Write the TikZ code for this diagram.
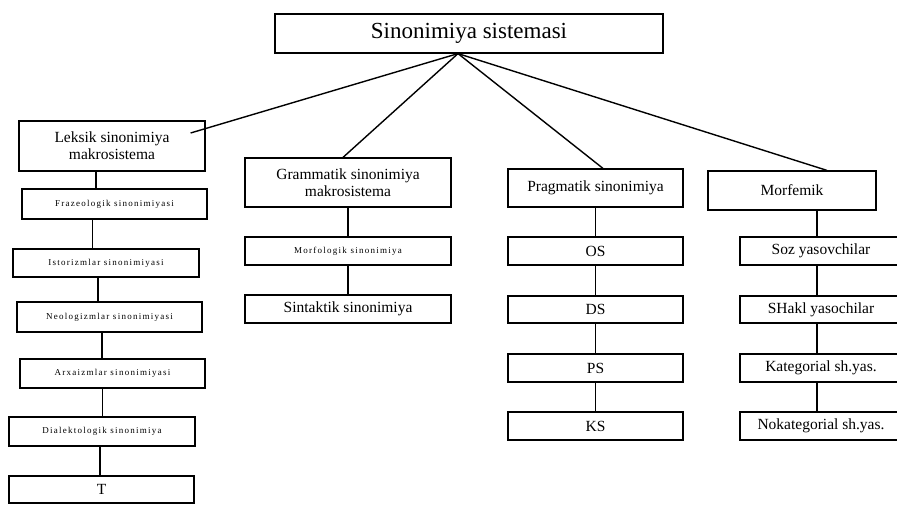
\documentclass[tikz,border=0pt]{standalone}
\usepackage{fontspec}
\setmainfont{Liberation Serif}
\newfontfamily\widefont[LetterSpace=14]{Liberation Serif}
\usepackage{tikz}
\tikzset{box/.style={draw=black,line width=1.2pt,inner sep=0pt,align=center,
   font=\fontsize{15.5}{17}\selectfont},
 smallbox/.style={box,font=\widefont\fontsize{9}{10}\selectfont},
 topbox/.style={box,font=\fontsize{23}{25}\selectfont},
 link/.style={line width=1.4pt},
 }

\begin{document}
\begin{tikzpicture}[x=1pt,y=-1pt]
        \useasboundingbox (0,0) rectangle (897,505);
        \node[topbox,minimum width=388pt,minimum height=39pt] (top) at (469,33.5) {Sinonimiya sistemasi};
        \coordinate (hub) at ([xshift=-11pt]top.south);

        % leksik column
        \node[box,minimum width=186pt,minimum height=50pt] (leksik) at (112,146) {Leksik sinonimiya\\makrosistema};
        \node[smallbox,minimum width=185pt,minimum height=30pt] (fraz) at (114.5,204) {Frazeologik sinonimiyasi};
        \node[smallbox,minimum width=186pt,minimum height=28pt] (istor) at (106,263) {Istorizmlar sinonimiyasi};
        \node[smallbox,minimum width=185pt,minimum height=30pt] (neolog) at (109.5,317) {Neologizmlar sinonimiyasi};
        \node[smallbox,minimum width=185pt,minimum height=29pt] (arxaiz) at (112.5,373.5) {Arxaizmlar sinonimiyasi};
        \node[smallbox,minimum width=186pt,minimum height=29pt] (dialekt) at (102,431.5) {Dialektologik sinonimiya};
        \node[box,minimum width=185pt,minimum height=27pt] (tbox) at (101.5,489.5) {T};

        \draw[link] ([xshift=-16pt]leksik.south) -- ([xshift=-16pt]leksik.south |- fraz.north);
        \draw[link] ([xshift=-22pt]fraz.south) -- ([xshift=-22pt]fraz.south |- istor.north);
        \draw[link] ([xshift=-8pt]istor.south) -- ([xshift=-8pt]istor.south |- neolog.north);
        \draw[link] ([xshift=-7.5pt]neolog.south) -- ([xshift=-7.5pt]neolog.south |- arxaiz.north);
        \draw[link] ([xshift=-10pt]arxaiz.south) -- ([xshift=-10pt]arxaiz.south |- dialekt.north);
        \draw[link] ([xshift=-2pt]dialekt.south) -- ([xshift=-2pt]dialekt.south |- tbox.north);

        % grammatik column
        \node[box,minimum width=206pt,minimum height=49pt] (gram) at (348,182.5) {Grammatik sinonimiya\\makrosistema};
        \node[smallbox,minimum width=206pt,minimum height=28pt] (morfolog) at (348,251) {Morfologik sinonimiya};
        \node[box,minimum width=206pt,minimum height=28pt] (sintakt) at (348,309) {Sintaktik sinonimiya};
        \draw[link] (gram) -- (morfolog);
        \draw[link] (morfolog) -- (sintakt);

        % pragmatik column
        \node[box,minimum width=175pt,minimum height=38pt] (prag) at (595.5,188) {Pragmatik sinonimiya};
        \node[box,minimum width=175pt,minimum height=28pt] (os) at (595.5,251) {OS};
        \node[box,minimum width=175pt,minimum height=27pt] (ds) at (595.5,309.5) {DS};
        \node[box,minimum width=175pt,minimum height=28pt] (ps) at (595.5,368) {PS};
        \node[box,minimum width=175pt,minimum height=28pt] (ks) at (595.5,426) {KS};
        \draw[link] (prag) -- (os);
        \draw[link] (os) -- (ds);
        \draw[link] (ds) -- (ps);
        \draw[link] (ps) -- (ks);

        % morfemik column
        \node[box,minimum width=168pt,minimum height=39pt] (morfem) at (792,190.5) {Morfemik};
        \node[box,minimum width=162pt,minimum height=28pt] (sozyas) at (821,251) {Soz yasovchilar};
        \node[box,minimum width=162pt,minimum height=27pt] (shakl) at (821,309.5) {SHakl yasochilar};
        \node[box,minimum width=162pt,minimum height=28pt] (kateg) at (821,368) {Kategorial sh.yas.};
        \node[box,minimum width=162pt,minimum height=28pt] (nokateg) at (821,426) {Nokategorial sh.yas.};
        \draw[link] ([xshift=25pt]morfem.south) -- ([xshift=25pt]morfem.south |- sozyas.north);
        \draw[link] ([xshift=-4pt]sozyas.south) -- ([xshift=-4pt]sozyas.south |- shakl.north);
        \draw[link] ([xshift=-4pt]shakl.south) -- ([xshift=-4pt]shakl.south |- kateg.north);
        \draw[link] ([xshift=-4pt]kateg.south) -- ([xshift=-4pt]kateg.south |- nokateg.north);

        % links from the top box
        \draw[link] (hub) -- ([xshift=-15pt,yshift=13pt]leksik.east);
        \draw[link] (hub) -- ([xshift=-5pt]gram.north);
        \draw[link] (hub) -- ([xshift=7.5pt]prag.north);
        \draw[link] (hub) -- ([xshift=35pt]morfem.north);
\end{tikzpicture}
\end{document}
